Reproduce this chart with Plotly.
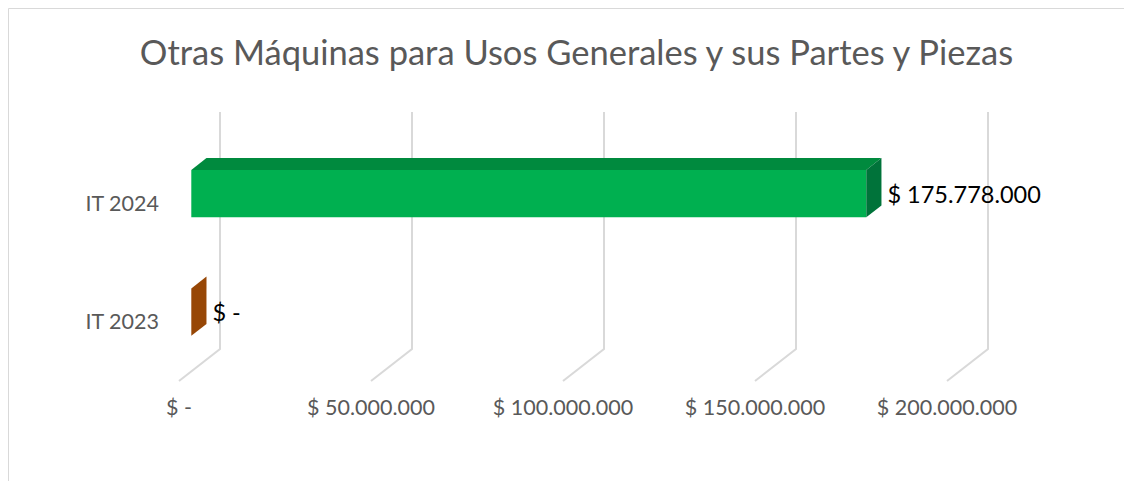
import plotly.graph_objects as go

categories = ["IT 2023", "IT 2024"]
values = [0, 175778000]
value_labels = ["$ -", "$ 175.778.000"]
tick_values = [0, 50000000, 100000000, 150000000, 200000000]
tick_labels = ["$ -", "$ 50.000.000", "$ 100.000.000", "$ 150.000.000", "$ 200.000.000"]
front_colors = ["#974706", "#00B050"]
top_colors = ["#7C3A05", "#008A3E"]
side_colors = ["#974706", "#00733A"]

# page is offset 8px by the body margin, so the figure is a bit smaller than the window
W, H = 1116, 473
M_L, M_R, M_T, M_B = 162, 74, 92, 89
PLOT_W = W - M_L - M_R
PLOT_H = H - M_T - M_B
PX_PER_USD = 192 / 50e6
ZERO_PX = 9        # value 0 on the front floor, px right of plot left
FLOOR_PX = 11      # front floor, px above plot bottom
DEPTH_DX, DEPTH_DY = 41, 32   # oblique depth vector (px)
WALL_H = 237
BAR_D0, BAR_D1 = 0.30, 0.67
BAR_SHARE = 0.4
LABEL_GAP_PX = 6
LABEL_DROP_PX = 3

FONT = "Lato"
GREY = "#595959"


def proj(v, d, h):
    # value / depth / height -> data coords of the 2D axes
    return v + d * DEPTH_DX / PX_PER_USD, d * DEPTH_DY + h


def poly(points, color):
    xs = [p[0] for p in points] + [points[0][0]]
    ys = [p[1] for p in points] + [points[0][1]]
    return go.Scatter(x=xs, y=ys, mode="lines", fill="toself", fillcolor=color,
                      line=dict(width=0, color=color), hoverinfo="skip", showlegend=False)


fig = go.Figure()

# oblique gridlines: floor diagonal then back-wall vertical
gx, gy = [], []
for tv in tick_values:
    for p in (proj(tv, 0, 0), proj(tv, 1, 0), proj(tv, 1, WALL_H)):
        gx.append(p[0])
        gy.append(p[1])
    gx.append(None)
    gy.append(None)
fig.add_trace(go.Scatter(x=gx, y=gy, mode="lines", line=dict(color="#D9D9D9", width=2),
                         hoverinfo="skip", showlegend=False))

band = WALL_H / len(categories)
centers = [band * (i + 0.5) for i in range(len(categories))]
lab_x, lab_y = [], []
for i, v in enumerate(values):
    hc = centers[i]
    hb, ht = hc - band * BAR_SHARE / 2, hc + band * BAR_SHARE / 2
    if v > 0:
        fig.add_trace(poly([proj(0, BAR_D0, hb), proj(v, BAR_D0, hb),
                            proj(v, BAR_D0, ht), proj(0, BAR_D0, ht)], front_colors[i]))
        fig.add_trace(poly([proj(0, BAR_D0, ht), proj(v, BAR_D0, ht),
                            proj(v, BAR_D1, ht), proj(0, BAR_D1, ht)], top_colors[i]))
    fig.add_trace(poly([proj(v, BAR_D0, hb), proj(v, BAR_D1, hb),
                        proj(v, BAR_D1, ht), proj(v, BAR_D0, ht)], side_colors[i]))
    lab_x.append(proj(v, BAR_D1, hc)[0] + LABEL_GAP_PX / PX_PER_USD)
    lab_y.append(proj(v, BAR_D0, hc)[1] - LABEL_DROP_PX)

fig.add_trace(go.Scatter(x=lab_x, y=lab_y, mode="text", text=value_labels,
                         textposition="middle right",
                         textfont=dict(family=FONT, size=23.5, color="#000000"),
                         hoverinfo="skip", showlegend=False))


def to_paper(fx, fy):
    return (fx - M_L) / PLOT_W, (H - M_B - fy) / PLOT_H


x0, y0 = to_paper(0.5, 0.5)
x1, y1 = to_paper(W, H)
fig.add_shape(type="line", xref="paper", yref="paper", x0=x0, y0=y0, x1=x1, y1=y0,
              line=dict(color="#D9D9D9", width=1))
fig.add_shape(type="line", xref="paper", yref="paper", x0=x0, y0=y0, x1=x0, y1=y1,
              line=dict(color="#D9D9D9", width=1))

fig.update_layout(
    width=W, height=H,
    margin=dict(l=M_L, r=M_R, t=M_T, b=M_B, pad=0),
    paper_bgcolor="white", plot_bgcolor="white",
    showlegend=False, hovermode=False,
    title=dict(text="Otras Máquinas para Usos Generales y sus Partes y Piezas",
               x=568.5 / W, xanchor="center", y=1 - 45 / H, yanchor="middle",
               font=dict(family=FONT, size=34.5, color=GREY)),
    xaxis=dict(range=[-ZERO_PX / PX_PER_USD, (PLOT_W - ZERO_PX) / PX_PER_USD],
               tickvals=tick_values, ticktext=tick_labels, showgrid=False,
               zeroline=False, showline=False, ticks="", fixedrange=True,
               tickfont=dict(family=FONT, size=21.5, color=GREY)),
    yaxis=dict(range=[-FLOOR_PX, PLOT_H - FLOOR_PX],
               tickvals=centers, ticktext=categories, showgrid=False,
               zeroline=False, showline=False, ticks="", fixedrange=True,
               ticklabelstandoff=10,
               tickfont=dict(family=FONT, size=21.5, color=GREY)),
)

fig.write_html("out.html")
